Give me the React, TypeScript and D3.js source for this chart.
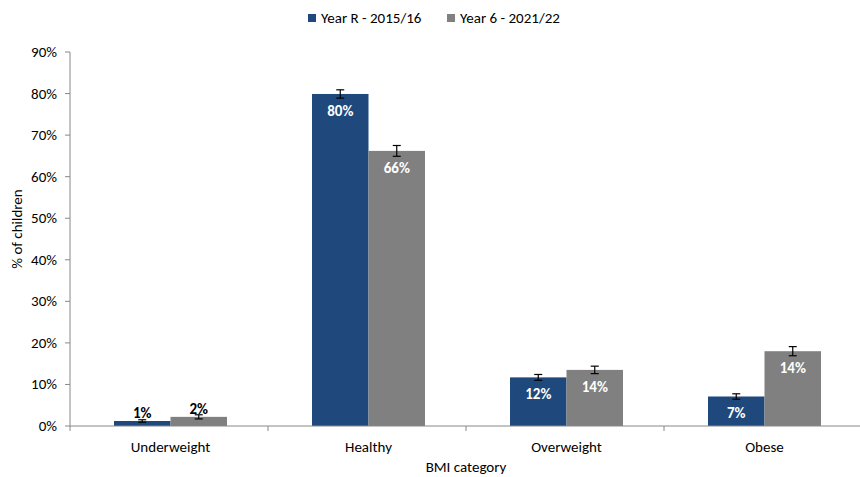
import React from "react";
import * as d3 from "d3";

const categories = ["Underweight", "Healthy", "Overweight", "Obese"];
const seriesNames = ["Year R - 2015/16", "Year 6 - 2021/22"];
const seriesColors = ["#1F497D", "#808080"];
const yearR = [1.2, 79.9, 11.7, 7.1];
const year6 = [2.2, 66.2, 13.5, 18.0];
const yearRErr = [0.3, 1.0, 0.7, 0.65];
const year6Err = [0.5, 1.3, 0.9, 1.1];
const yearRLabels = ["1%", "80%", "12%", "7%"];
const year6Labels = ["2%", "66%", "14%", "14%"];
const yTicks = [0, 10, 20, 30, 40, 50, 60, 70, 80, 90];

const FONT = "Carlito, Calibri, Lato, 'Open Sans', sans-serif";

export default function App() {
  const W = 860, H = 477;
  const left = 70, right = 862, top = 52, bottom = 426;
  const y = d3.scaleLinear().domain([0, 90]).range([bottom, top]);
  const x = d3.scaleBand<string>().domain(categories).range([left, right]).padding(0);
  const xs = d3.scaleBand<number>().domain([0, 1]).range([44, 157]).padding(0);
  const series = [
    { vals: yearR, errs: yearRErr, labels: yearRLabels },
    { vals: year6, errs: year6Err, labels: year6Labels },
  ];
  const bw = xs.bandwidth();
  return (
    <svg width={W} height={H} style={{ position: "absolute", left: 0, top: 0, fontFamily: FONT }}>
      <rect x={0} y={0} width={W} height={H} fill="#fff" />
      {seriesNames.map((n, i) => {
        const lx = i === 0 ? 308 : 447;
        return (
          <g key={n}>
            <rect x={lx} y={14} width={8} height={8} fill={seriesColors[i]} />
            <text x={lx + 13} y={23} fontSize={15} fill="#000">{n}</text>
          </g>
        );
      })}
      <line x1={left} x2={left} y1={top} y2={bottom} stroke="#888" />
      {yTicks.map((t) => (
        <g key={t}>
          <line x1={left - 5} x2={left} y1={y(t)} y2={y(t)} stroke="#888" />
          <text x={57} y={y(t) + 5} textAnchor="end" fontSize={15} fill="#000">{t}%</text>
        </g>
      ))}
      <text transform={`translate(22,229) rotate(-90)`} textAnchor="middle" fontSize={15} fill="#000">
        % of children
      </text>
      {categories.map((c, ci) => (
        <g key={c}>
          {series.map((s, si) => {
            const bx = (x(c) as number) + (xs(si) as number);
            const v = s.vals[ci];
            const e = s.errs[ci];
            const cx = bx + bw / 2;
            const small = v < 5;
            return (
              <g key={si}>
                <rect x={bx} y={y(v)} width={bw} height={bottom - y(v)} fill={seriesColors[si]} />
                <line x1={cx} x2={cx} y1={y(v + e)} y2={y(v - e)} stroke="#000" strokeWidth={1.2} />
                <line x1={cx - 4} x2={cx + 4} y1={y(v + e)} y2={y(v + e)} stroke="#000" strokeWidth={1.2} />
                <line x1={cx - 4} x2={cx + 4} y1={y(v - e)} y2={y(v - e)} stroke="#000" strokeWidth={1.2} />
                <text
                  x={cx}
                  y={small ? y(v) - 3 : y(v) + 22}
                  textAnchor="middle"
                  fontSize={15}
                  fontWeight="bold"
                  fill={small ? "#000" : "#fff"}
                >
                  {s.labels[ci]}
                </text>
              </g>
            );
          })}
        </g>
      ))}
      <line x1={left} x2={right} y1={bottom} y2={bottom} stroke="#888" />
      {categories.map((c, i) => (
        <g key={c}>
          <line x1={(x(c) as number) + x.bandwidth()} x2={(x(c) as number) + x.bandwidth()} y1={bottom} y2={bottom + 5} stroke="#888" />
          {i === 0 && <line x1={left} x2={left} y1={bottom} y2={bottom + 5} stroke="#888" />}
          <text x={(x(c) as number) + xs(0)! + bw} y={452} textAnchor="middle" fontSize={15} fill="#000">{c}</text>
        </g>
      ))}
      <text x={466} y={472} textAnchor="middle" fontSize={15} fill="#000">BMI category</text>
    </svg>
  );
}
